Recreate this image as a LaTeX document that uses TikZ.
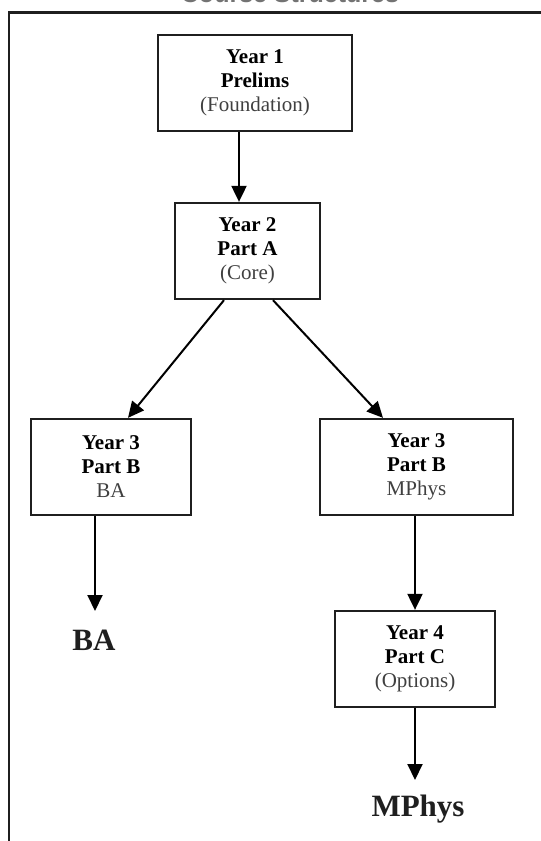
\documentclass[tikz,border=0pt]{standalone}
\usepackage{fontspec}
\setmainfont{Liberation Serif}
\setsansfont{Liberation Sans}
\usetikzlibrary{arrows.meta}
\tikzset{
	stage/.style  = {draw=black!88, line width=2.3pt, fill=white, rectangle, inner sep=0pt, align=center, minimum height=96pt, font=\fontsize{21}{24}\selectfont},
	degree/.style = {text=black!88, font=\fontsize{31}{36}\selectfont\bfseries},
	title/.style  = {text=black!55, font=\sffamily\bfseries\fontsize{25}{30}\selectfont, anchor=base},
	hidden/.style = {coordinate},
}
\newcommand{\stagetext}[3]{\textbf{#1}\\\textbf{#2}\\{\color{black!75}#3}}

\begin{document}
\begin{tikzpicture}[x=1pt, y=-1pt, >={Triangle[length=16pt, width=15pt]}, line width=2pt]
	\useasboundingbox (0,0) rectangle (541,841);
	% Title, cut by the top of the page
	\node[title] (title) at (290,2) {Course Structures};
	\draw[line width=2.7pt, black!88] (9,841) -- (9,12.5) -- (541,12.5);

	% Draw the stage boxes
	\draw
	node[stage, minimum width=194pt] (prelims) at (255,83)   {\stagetext{Year 1}{Prelims}{(Foundation)}}
	node[stage, minimum width=145pt] (parta)   at (247.5,251) {\stagetext{Year 2}{Part A}{(Core)}}
	node[stage, minimum width=160pt] (partbba) at (111,467)  {\stagetext{Year 3}{Part B}{BA}}
	node[stage, minimum width=193pt] (partbmp) at (416.5,467) {\stagetext{Year 3}{Part B}{MPhys}}
	node[stage, minimum width=160pt] (partc)   at (415,659)  {\stagetext{Year 4}{Part C}{(Options)}}
	node[hidden] (batip) at (95,611) {}
	node[hidden] (mphystip) at (415,780) {}
	node[degree] (ba)    at (94,640) {BA}
	node[degree] (mphys) at (418,809) {MPhys};

	% Connect everything together
	\draw[->] ([xshift=-16pt]prelims.south) -- ([xshift=-8.5pt]parta.north);
	\draw[->] ([xshift=-23.5pt]parta.south) -- ([xshift=17pt]partbba.north);
	\draw[->] ([xshift=25.5pt]parta.south) -- ([xshift=-33.5pt]partbmp.north);
	\draw[->] ([xshift=-16pt]partbba.south) -- (batip);
	\draw[->] (partbmp.south -| partc.north) -- (partc.north);
	\draw[->] (partc.south) -- (mphystip);
\end{tikzpicture}
\end{document}
